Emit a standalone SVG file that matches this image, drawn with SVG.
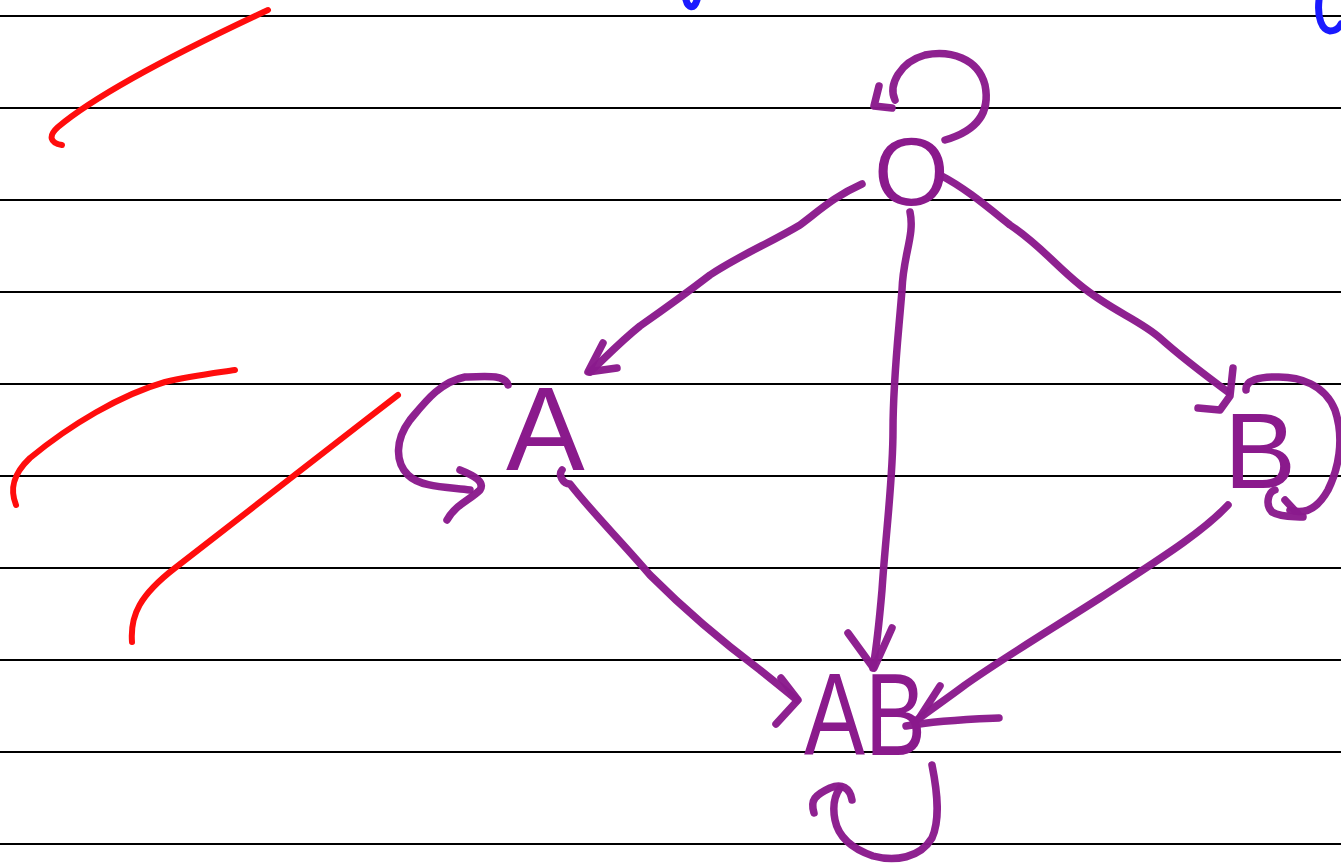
<svg xmlns="http://www.w3.org/2000/svg" width="1341" height="867" viewBox="0 0 1341 867">
<style>
.rule{stroke:#000;stroke-width:2}
.ink{fill:none;stroke:#8a1a8c;stroke-width:7.5;stroke-linecap:round;stroke-linejoin:round;opacity:0.97}
.red{fill:none;stroke:#ff0d0d;stroke-width:6;stroke-linecap:round;stroke-linejoin:round}
.blue{fill:none;stroke:#1a1aff;stroke-width:7;stroke-linecap:round}
.lbl{font-family:"Liberation Sans",Arial,sans-serif;fill:#8a1a8c}
</style>
<rect width="1341" height="867" fill="#fff"/>
<g id="rules">
<line class="rule" x1="0" y1="16" x2="1341" y2="16"/>
<line class="rule" x1="0" y1="108" x2="1341" y2="108"/>
<line class="rule" x1="0" y1="200" x2="1341" y2="200"/>
<line class="rule" x1="0" y1="292" x2="1341" y2="292"/>
<line class="rule" x1="0" y1="384" x2="1341" y2="384"/>
<line class="rule" x1="0" y1="476" x2="1341" y2="476"/>
<line class="rule" x1="0" y1="568" x2="1341" y2="568"/>
<line class="rule" x1="0" y1="660" x2="1341" y2="660"/>
<line class="rule" x1="0" y1="752" x2="1341" y2="752"/>
<line class="rule" x1="0" y1="844" x2="1341" y2="844"/>
</g>
<g id="marks">
<path class="red" d="M62,145 C50,143 48,136 58,127 C90,100 150,65 268,10"/>
<path class="red" d="M16,505 C10,490 12,475 30,458 C70,425 120,395 165,382 C190,376 215,373 235,370"/>
<path class="red" d="M132,642 C130,615 140,595 175,568 C240,518 320,455 398,395"/>
<path class="blue" d="M686,0 C688,8 694,10 697,0"/>
<path class="blue" d="M1319,0 C1317,18 1322,30 1330,31 C1335,31 1339,28 1341,24"/>
</g>
<g id="node-O">
<text class="lbl" x="874" y="205" font-size="96">O</text>
</g>
<g id="node-A">
<text class="lbl" x="506" y="470" font-size="118">A</text>
</g>
<g id="node-B">
<text class="lbl" x="1224" y="488" font-size="108">B</text>
</g>
<g id="node-AB">
<text class="lbl" x="804" y="755" font-size="116" textLength="122" lengthAdjust="spacingAndGlyphs">AB</text>
</g>
<g id="connectors">
<path class="ink" d="M862,184 C835,196 820,210 800,225 C770,243 740,255 710,275 C680,298 660,312 640,326 C620,342 605,358 590,372"/>
<path class="ink" d="M603,343 L588,372 L617,368"/>
<path class="ink" d="M910,212 C915,235 903,255 902,290 C898,340 893,380 893,430 C893,480 886,530 882,590 C879,625 876,650 873,668"/>
<path class="ink" d="M848,633 L872,666 M892,628 L874,668"/>
<path class="ink" d="M940,175 C965,188 985,205 1010,225 C1040,245 1055,265 1080,285 C1110,310 1140,320 1160,338 C1180,356 1205,375 1228,392"/>
<path class="ink" d="M1233,368 L1230,396 L1220,410 L1198,408"/>
<path class="ink" d="M945,140 C980,130 990,110 985,85 C978,58 950,50 925,55 C900,62 888,85 895,100"/>
<path class="ink" d="M879,86 L874,106 L892,108"/>
<path class="ink" d="M562,470 C558,475 563,484 570,484 C590,510 620,540 650,575 C685,610 720,640 760,670 C775,682 785,690 797,700"/>
<path class="ink" d="M781,678 L798,700 L776,724"/>
<path class="ink" d="M1228,505 C1200,535 1150,565 1100,598 C1050,630 1000,660 965,685 C945,700 930,710 917,720"/>
<path class="ink" d="M940,686 L918,720 M906,726 C940,720 975,719 999,718"/>
<path class="ink" d="M508,385 C505,375 490,376 465,377 C440,382 425,402 410,420 C395,440 395,462 408,475 C420,487 445,487 470,490"/>
<path class="ink" d="M460,470 C475,476 485,482 480,490 C470,500 455,505 447,520"/>
<path class="ink" d="M1246,390 C1245,380 1260,377 1275,377 C1300,376 1325,385 1335,410 C1345,440 1338,470 1328,490 C1318,508 1305,515 1290,510"/>
<path class="ink" d="M1275,490 C1268,492 1265,505 1272,512 C1282,518 1295,516 1303,517 M1285,500 L1298,514"/>
<path class="ink" d="M932,765 C938,795 940,820 932,838 C920,858 895,862 873,856 C850,848 838,835 835,820 C832,805 835,795 840,788"/>
<path class="ink" d="M814,813 C810,800 815,795 830,788 C842,783 850,788 852,800"/>
</g>
</svg>
